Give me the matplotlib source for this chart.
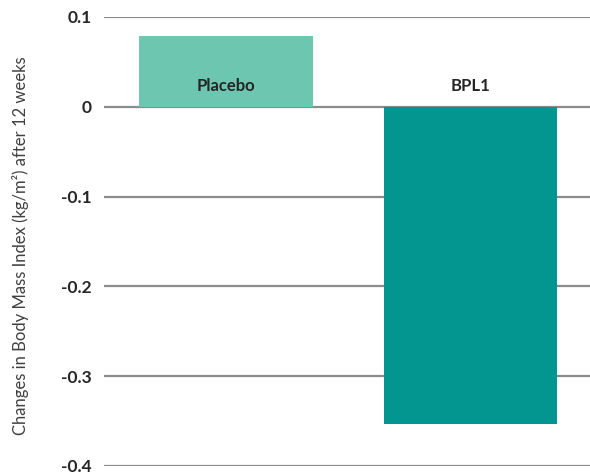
import matplotlib.pyplot as plt
import numpy as np

groups = ["Placebo", "BPL1"]
changes = [0.079, -0.353]
colors = ["#6dc7b0", "#039590"]
yticks = [0.1, 0, -0.1, -0.2, -0.3, -0.4]
ytick_labels = ["0.1", "0", "-0.1", "-0.2", "-0.3", "-0.4"]

plt.rcParams["font.family"] = ["Lato", "DejaVu Sans"]

fig = plt.figure(figsize=(5.9, 4.74), dpi=100)
ax = fig.add_axes([104 / 590, (474 - 466) / 474, 486 / 590, (466 - 17) / 474])

x = np.arange(len(groups))
ax.bar(x, changes, width=0.71, color=colors, zorder=3)

# horizontal grid lines
for yt in yticks:
    ax.axhline(yt, color="#8c8c8c", linewidth=1.6, zorder=1)

for xi, name in zip(x, groups):
    ax.text(xi, 0.023, name, ha="center", va="center", fontsize=12,
            fontweight="bold", color="#262626", zorder=4)

ax.set_xlim(-0.5, 1.49)
ax.set_ylim(-0.4, 0.1)
ax.set_yticks(yticks)
ax.set_yticklabels(ytick_labels, fontweight="bold", fontsize=12.5, color="#262626")
ax.tick_params(axis="y", length=0, pad=9)
ax.set_xticks([])
for s in ax.spines.values():
    s.set_visible(False)

fig.text(21 / 590, (474 - 246) / 474, "Changes in Body Mass Index (kg/m²) after 12 weeks",
         rotation=90, ha="center", va="center", fontsize=12, color="#404040")

fig.savefig("out.png", dpi=100)
